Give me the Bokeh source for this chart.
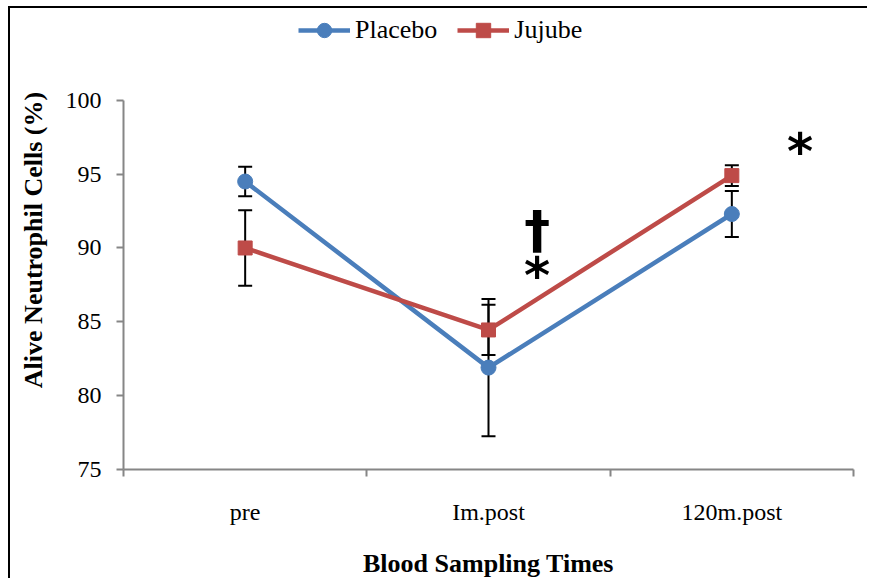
from bokeh.plotting import figure
from bokeh.models import (Whisker, ColumnDataSource, FixedTicker, Legend, LegendItem,
                          TeeHead, Range1d)
from bokeh.core.properties import value
from bokeh.embed import file_html
from bokeh.resources import INLINE

categories = ["pre", "Im.post", "120m.post"]
placebo = [94.5, 81.9, 92.3]
placebo_err = [1.0, 4.65, 1.55]
jujube = [90.0, 84.45, 94.9]
jujube_err = [2.55, 1.7, 0.7]
y_ticks = [75, 80, 85, 90, 95, 100]

dagger_x = [1.70]
dagger_y = [91.2]
star_x = [1.70, 2.78]
star_y = [88.1, 96.5]

BLUE = "#4A7EBB"
RED = "#BE4B48"
AXIS = "#868686"
SERIF = "Liberation Serif"

xs = [i + 0.5 for i in range(len(categories))]

p = figure(width=859, height=572, output_backend="svg", toolbar_location=None,
           x_range=Range1d(0, len(categories)), y_range=Range1d(75, 106.08),
           min_border_left=113, min_border_right=16, min_border_top=2,
           min_border_bottom=110)
p.styles = {"border-left": "2px solid black", "border-top": "2px solid black",
            "margin-left": "8px", "margin-top": "6px"}
p.outline_line_color = None
p.grid.visible = False
p.background_fill_color = "white"
p.border_fill_color = "white"

# axes
p.xaxis.ticker = FixedTicker(ticks=xs, minor_ticks=list(range(len(categories) + 1)))
p.xaxis.major_label_overrides = {x: c for x, c in zip(xs, categories)}
p.xaxis.major_tick_line_color = None
p.xaxis.major_tick_out = 0
p.xaxis.major_tick_in = 0
p.xaxis.minor_tick_out = 7
p.xaxis.minor_tick_in = 0
p.xaxis.minor_tick_line_color = AXIS
p.xaxis.minor_tick_line_width = 2
p.xaxis.major_label_standoff = 22
p.xaxis.axis_label = "Blood Sampling Times"
p.xaxis.axis_label_standoff = 21

p.yaxis.ticker = FixedTicker(ticks=y_ticks, minor_ticks=[])
p.yaxis.bounds = (y_ticks[0], y_ticks[-1])
p.yaxis.major_tick_out = 7
p.yaxis.major_tick_in = 0
p.yaxis.major_tick_line_color = AXIS
p.yaxis.major_tick_line_width = 2
p.yaxis.major_label_standoff = 15
p.yaxis.axis_label = "Alive Neutrophil Cells (%)"
p.yaxis.axis_label_standoff = 15

for ax in (p.xaxis, p.yaxis):
    ax.axis_line_color = AXIS
    ax.axis_line_width = 2
    ax.major_label_text_font = SERIF
    ax.major_label_text_font_size = "24px"
    ax.major_label_text_color = "black"
    ax.axis_label_text_font = SERIF
    ax.axis_label_text_font_size = "26px"
    ax.axis_label_text_font_style = "bold"
    ax.axis_label_text_color = "black"

# error bars
for vals, errs in ((placebo, placebo_err), (jujube, jujube_err)):
    src = ColumnDataSource(dict(x=xs,
                                lo=[v - e for v, e in zip(vals, errs)],
                                hi=[v + e for v, e in zip(vals, errs)]))
    w = Whisker(base="x", lower="lo", upper="hi", source=src,
                line_color="black", line_width=2,
                upper_head=TeeHead(size=14, line_color="black", line_width=2),
                lower_head=TeeHead(size=14, line_color="black", line_width=2))
    p.add_layout(w)

pl = p.line(xs, placebo, line_color=BLUE, line_width=4.5)
pm = p.scatter(xs, placebo, marker="circle", size=15, fill_color=BLUE, line_color=BLUE)
jl = p.line(xs, jujube, line_color=RED, line_width=4.5)
jm = p.scatter(xs, jujube, marker="square", size=14, fill_color=RED, line_color=RED)

p.text(dagger_x, dagger_y, text=["†"], text_font=value("DejaVu Sans"),
       text_font_style="bold", text_font_size="52px", text_align="center",
       text_baseline="middle", text_color="black")
p.text(star_x, star_y, text=["*", "*"], text_font=value("DejaVu Sans"),
       text_font_style="bold", text_font_size="50px", text_align="center",
       text_baseline="middle", text_color="black")

legend = Legend(items=[LegendItem(label="Placebo", renderers=[pl, pm]),
                       LegendItem(label="Jujube", renderers=[jl, jm])],
                orientation="horizontal", location=(175, 421),
                border_line_color=None, background_fill_alpha=0,
                padding=0, margin=0, spacing=20, label_standoff=5,
                glyph_width=52, glyph_height=36, label_height=36,
                label_text_font=SERIF, label_text_font_size="26px",
                label_text_color="black")
p.add_layout(legend)

open("out.html", "w").write(file_html(p, INLINE))
